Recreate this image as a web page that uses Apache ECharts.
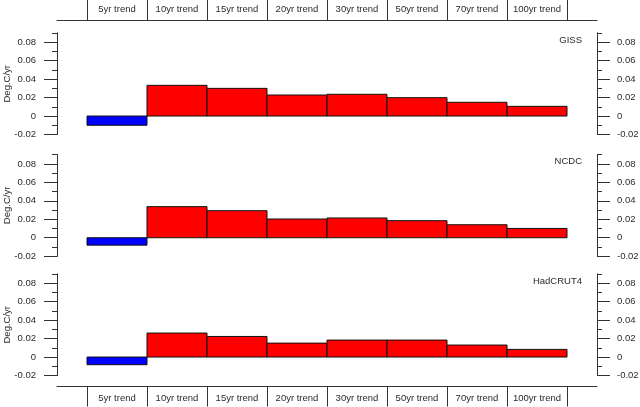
<!DOCTYPE html>
<html>
<head>
<meta charset="utf-8">
<script src="https://cdn.jsdelivr.net/npm/echarts@6/dist/echarts.min.js"></script>
<style>
html,body{margin:0;padding:0;background:#fff;}
#c{width:640px;height:407px;}
</style>
</head>
<body>
<div id="c"></div>
<script>
var categories = ['5yr trend','10yr trend','15yr trend','20yr trend','30yr trend','50yr trend','70yr trend','100yr trend'];
var datasetNames = ['GISS','NCDC','HadCRUT4'];
var gissValues = [-0.010, 0.0333, 0.0300, 0.0228, 0.0236, 0.0199, 0.0149, 0.0105];
var ncdcValues = [-0.008, 0.0337, 0.0293, 0.0203, 0.0214, 0.0185, 0.0141, 0.0101];
var hadcrutValues = [-0.0083, 0.0260, 0.0223, 0.0151, 0.0184, 0.0184, 0.0130, 0.0083];
var majorTicks = [-0.02, 0, 0.02, 0.04, 0.06, 0.08];
var yMin = -0.02, yMax = 0.09;
var yName = 'Deg.C/yr';

var allValues = [gissValues, ncdcValues, hadcrutValues];
var FONT = "'Liberation Sans', Arial, sans-serif";
var FS = 9.5;
var TXT = '#2a2a33';
var LINE = '#333';

var gridTops = [33, 154.7, 274];
var gridH = 101.5;

var grids = [], xAxes = [], yAxes = [], series = [], titles = [];
var boundaries = categories.map(function(c,i){return i;}).concat([categories.length]);
var centers = categories.map(function(c,i){return i+0.5;});

for (var p = 0; p < 3; p++) {
  grids.push({left:57, right:43, top:gridTops[p], height:gridH, containLabel:false, outerBoundsMode:'none'});
  var xa = {
    type:'value', gridIndex:p, min:-0.5, max:categories.length+0.5,
    splitLine:{show:false},
    axisLine:{show:true, onZero:false, lineStyle:{color:LINE, width:1}},
    axisTick:{show:true, length:20, customValues:boundaries, lineStyle:{color:LINE}},
    axisLabel:{show:true, customValues:centers, color:TXT, fontSize:FS, fontFamily:FONT,
      formatter:function(v){ return categories[Math.round(v-0.5)] || ''; }}
  };
  if (p === 0) { xa.position = 'top'; xa.offset = 12.5; xa.axisLabel.margin = 6; xa.axisTick.length = 21; }
  else if (p === 2) { xa.position = 'bottom'; xa.offset = 11; xa.axisLabel.margin = 7; }
  else { xa.show = false; }
  xAxes.push(xa);

  var mk = function(extra){
    var o = {type:'value', gridIndex:p, min:yMin, max:yMax, splitLine:{show:false},
      axisLine:{show:true, onZero:false, lineStyle:{color:LINE, width:1}}};
    for (var k in extra) o[k] = extra[k];
    return o;
  };
  yAxes.push(mk({
    position:'left', offset:0, interval:0.02,
    name:yName, nameLocation:'middle', nameRotate:90, nameGap:45, nameMoveOverlap:false,
    nameTextStyle:{color:TXT, fontSize:FS, fontFamily:FONT},
    axisTick:{show:true, length:13, customValues:majorTicks, lineStyle:{color:LINE}},
    axisLabel:{show:true, customValues:majorTicks, margin:21, color:TXT, fontSize:FS, fontFamily:FONT}
  }));
  yAxes.push(mk({
    position:'left', offset:0, interval:0.01,
    axisTick:{show:true, length:5, lineStyle:{color:LINE}},
    axisLabel:{show:false}
  }));
  yAxes.push(mk({
    position:'right', offset:0, interval:0.02,
    axisTick:{show:true, length:13, customValues:majorTicks, lineStyle:{color:LINE}},
    axisLabel:{show:true, customValues:majorTicks, margin:20, color:TXT, fontSize:FS, fontFamily:FONT}
  }));
  yAxes.push(mk({
    position:'right', offset:0, interval:0.01,
    axisTick:{show:true, length:5, lineStyle:{color:LINE}},
    axisLabel:{show:false}
  }));

  series.push({
    type:'custom', xAxisIndex:p, yAxisIndex:p*4,
    encode:{x:0, y:1},
    data: allValues[p].map(function(v,i){ return [i, v]; }),
    renderItem: function(params, api){
      var i = api.value(0), v = api.value(1);
      var a = api.coord([i, 0]);
      var b = api.coord([i+1, v]);
      return {type:'rect',
        shape:{x:a[0], y:Math.min(a[1],b[1]), width:b[0]-a[0], height:Math.abs(b[1]-a[1])},
        style:{fill: v < 0 ? '#0000FF' : '#FF0000', stroke:'#111', lineWidth:1}};
    }
  });

  titles.push({text:datasetNames[p], right:58, top:gridTops[p]+2, padding:0,
    textStyle:{color:TXT, fontSize:FS, fontWeight:'normal', fontFamily:FONT}});
}

var chart = echarts.init(document.getElementById('c'), null, {renderer:'canvas'});
chart.setOption({
  animation:false,
  backgroundColor:'#fff',
  title:titles,
  grid:grids,
  xAxis:xAxes,
  yAxis:yAxes,
  series:series
});
</script>
</body>
</html>
